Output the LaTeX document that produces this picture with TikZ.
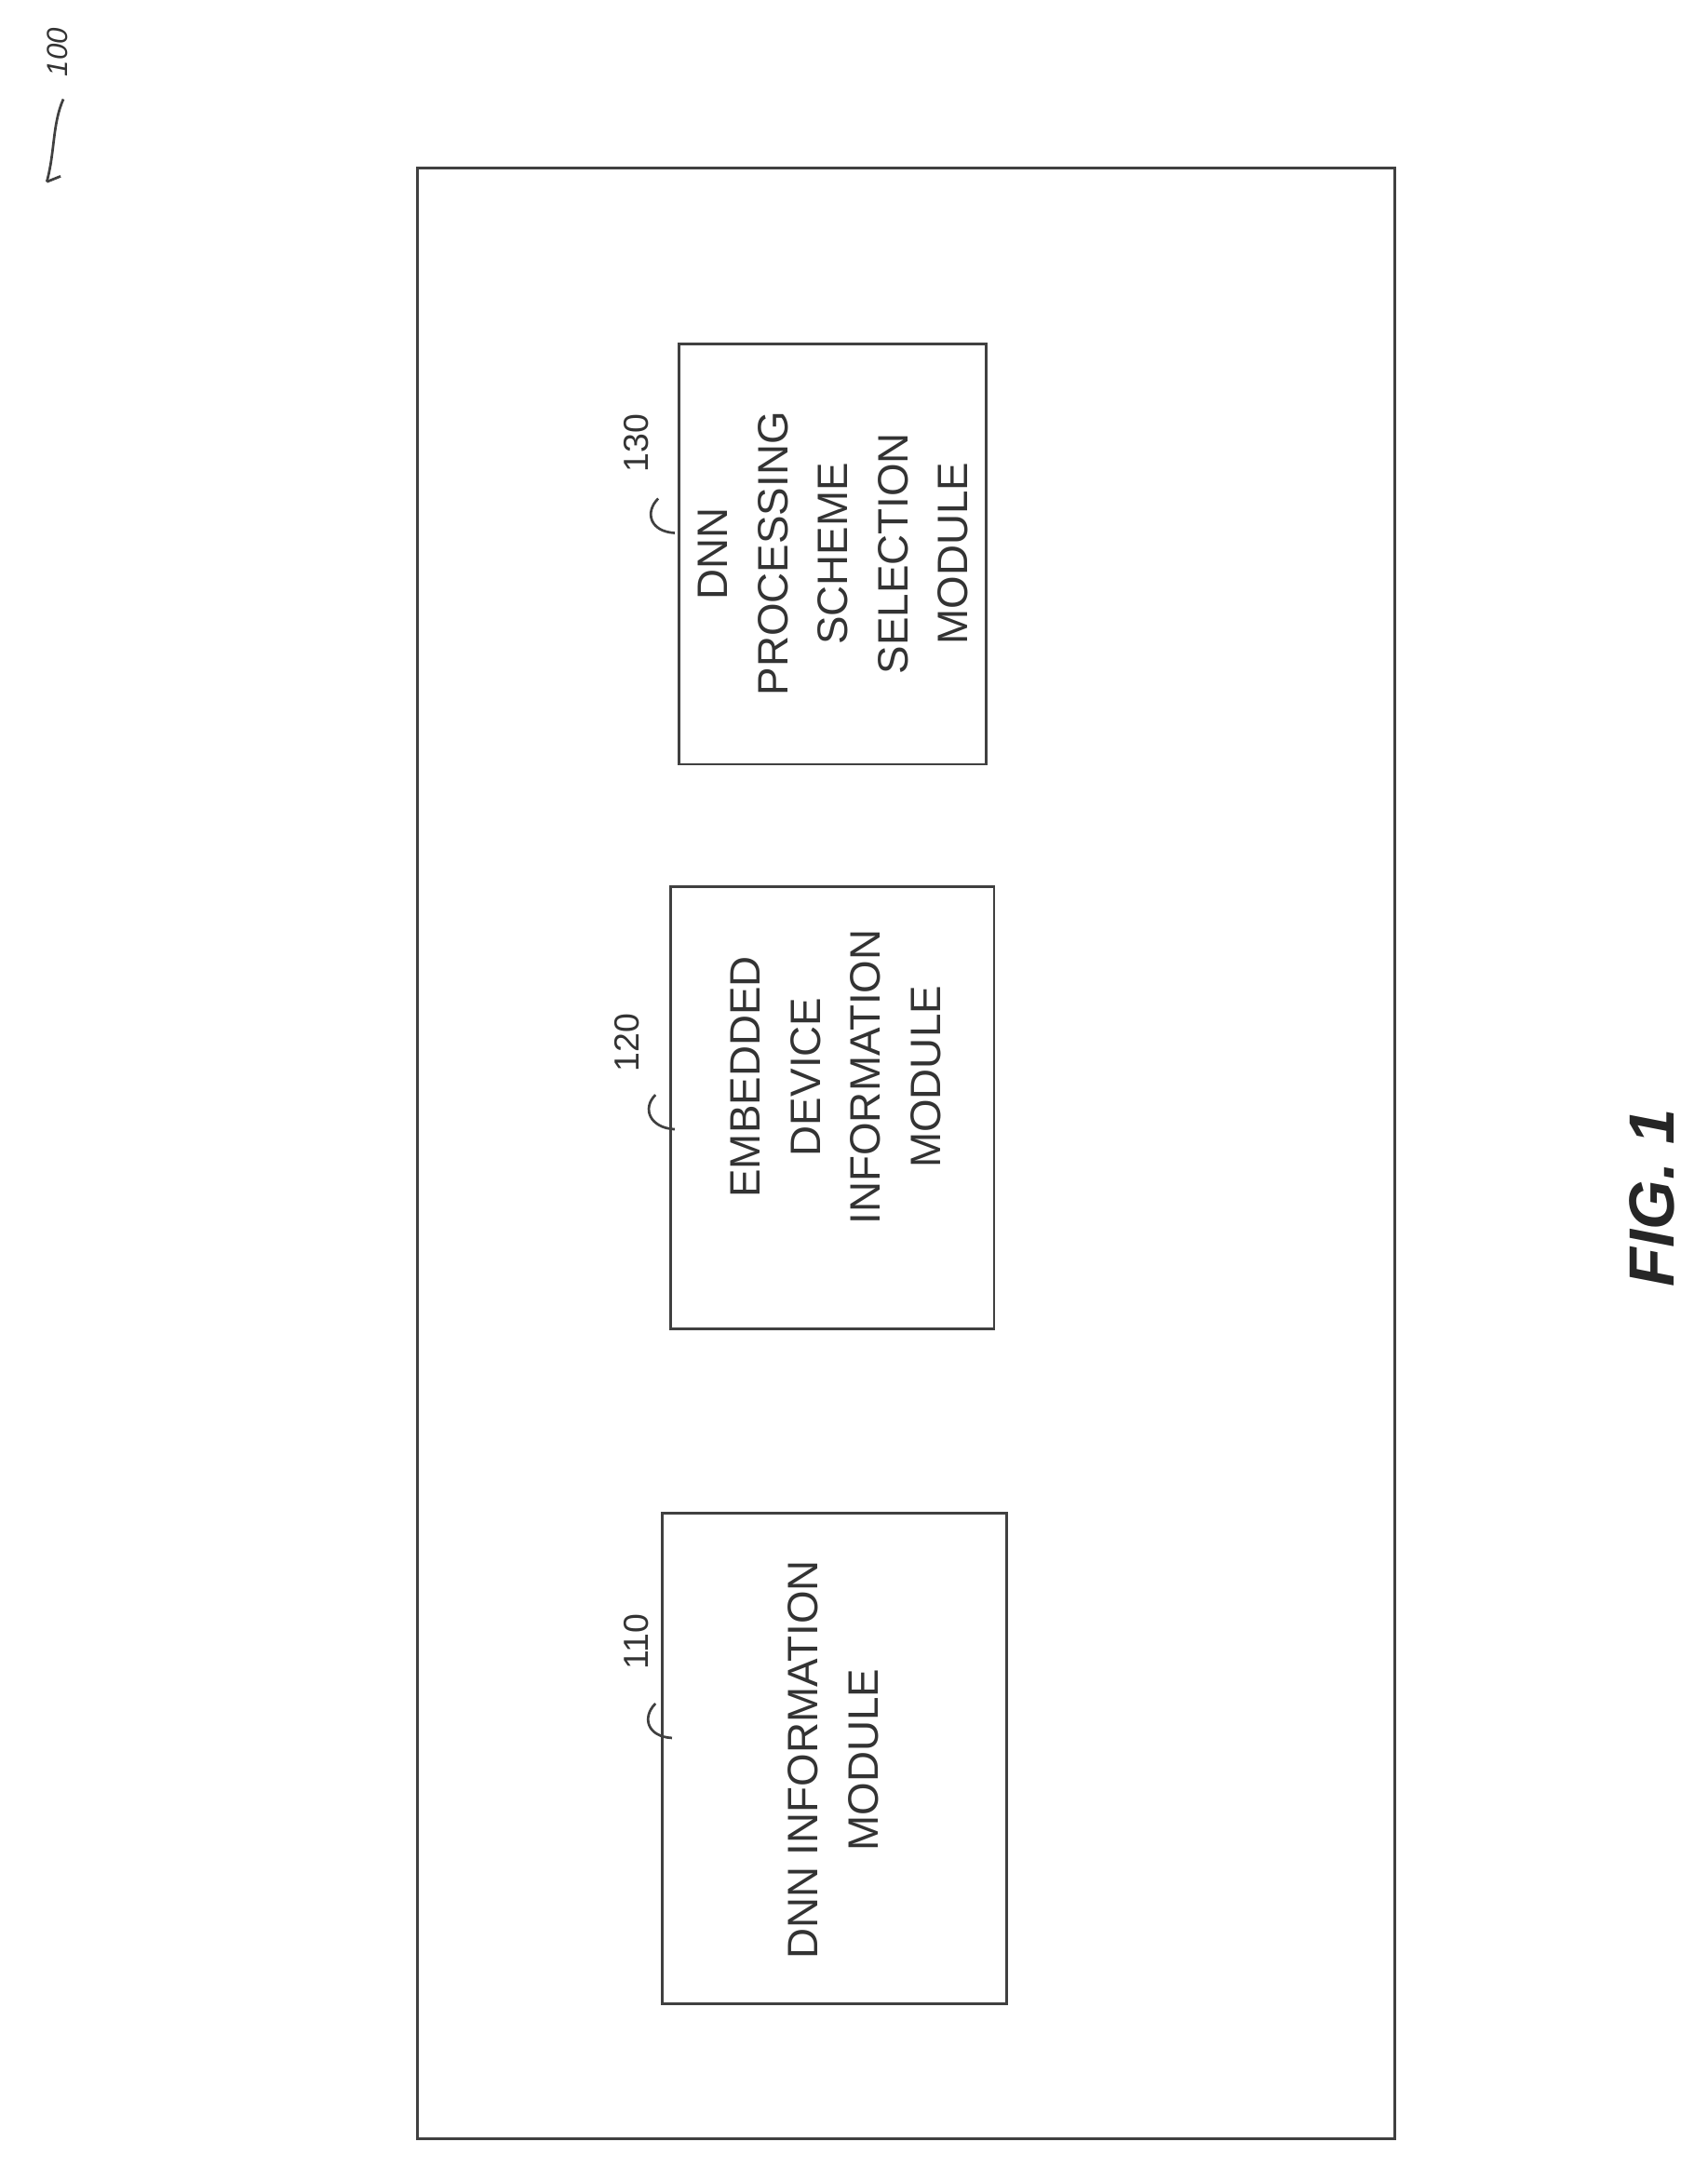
\documentclass[tikz,border=0pt]{standalone}
\usepackage{fontspec}
\setmainfont{Liberation Sans}
\begin{document}
\begin{tikzpicture}[x=0.05cm,y=-0.05cm,
  box/.style={draw=black!75,line width=2.6pt},
  modtext/.style={rotate=90,align=center,font=\fontsize{44}{62}\selectfont,text=black!80},
  ref/.style={rotate=90,font=\fontsize{36}{40}\selectfont,text=black!80},
  hook/.style={draw=black!75,line width=2.6pt}]
\useasboundingbox (0,0) rectangle (1240,1575);
\draw[box] (303,122) rectangle (1013,1553);
\draw[box] (493,250) rectangle (716,555);
\draw[box] (487,644) rectangle (722,965);
\draw[box] (481,1099) rectangle (731,1455);
\node[modtext] (m130) at (605,402) {DNN\\PROCESSING\\SCHEME\\SELECTION\\MODULE};
\node[modtext] (m120) at (607,782) {EMBEDDED\\DEVICE\\INFORMATION\\MODULE};
\node[modtext] (m110) at (605,1278) {DNN INFORMATION\\MODULE};
\node[ref] (r130) at (462,322) {130};
\node[ref] (r120) at (455,757) {120};
\node[ref] (r110) at (462,1192) {110};
\draw[hook] (490,387) .. controls (472,386) and (468,372) .. (478,362);
\draw[hook] (490,820) .. controls (472,819) and (466,805) .. (476,795);
\draw[hook] (488,1262) .. controls (470,1261) and (466,1247) .. (476,1237);
\node[rotate=90,font=\fontsize{66}{66}\selectfont\bfseries\itshape,text=black!85] (fig) at (1200,870) {FIG. 1};
\node[rotate=90,font=\fontsize{30}{34}\selectfont\itshape,text=black!80] (n100) at (42,38) {100};
\draw[hook] (34,132) .. controls (40,110) and (38,90) .. (46,72);
\draw[hook] (34,132) -- (44,128);
\end{tikzpicture}
\end{document}
